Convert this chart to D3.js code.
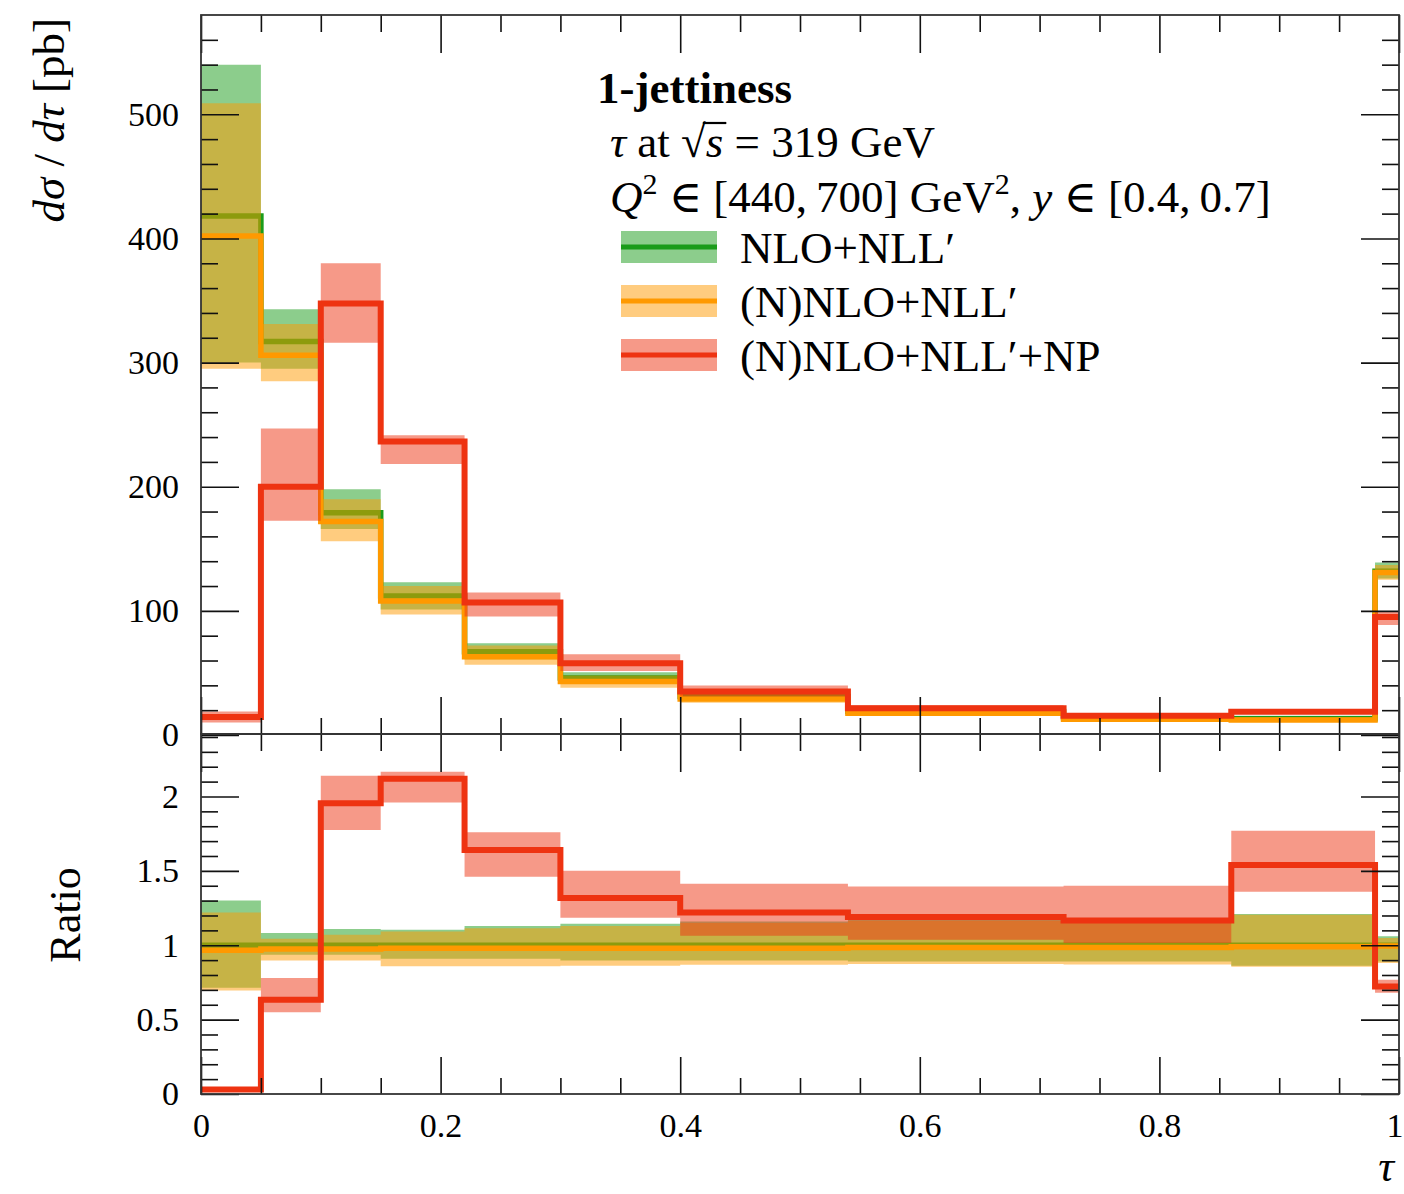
<!DOCTYPE html>
<meta charset="utf-8">
<head>
  <title>1-jettiness</title>
</head>

<style>
body {
  margin: 0;
  background: #fff;
}
text {
  font-family: "Liberation Serif", "DejaVu Serif", serif;
  fill: #000;
}
</style>

<body>
  <svg id="chart" width="1404" height="1194"></svg>

  <script src="https://cdnjs.cloudflare.com/ajax/libs/d3/7.8.5/d3.min.js"></script>

  <script>
// bin edges in tau
var edges = [0, 0.05, 0.1, 0.15, 0.22, 0.3, 0.4, 0.54, 0.72, 0.86, 0.98, 1];

// NLO+NLL'
var nloMid = [418, 317, 179, 112, 67, 46, 31, 19, 14, 13, 132];
var nloLo  = [300, 295, 166, 101, 61, 41, 27.5, 17, 12.5, 11.2, 126];
var nloHi  = [540, 343, 198, 123, 74, 50.5, 35, 21.5, 16, 15.5, 139];
// (N)NLO+NLL'
var nnloMid = [402, 306, 172, 108, 63, 43, 29, 17.5, 12.6, 12, 131];
var nnloLo  = [295, 285, 156, 97, 56.5, 38, 26, 15.6, 11, 10.5, 125];
var nnloHi  = [509, 331, 190, 120, 72, 48, 33, 20.5, 15, 14.5, 137];
// (N)NLO+NLL'+NP
var npMid = [14.5, 200, 347.6, 236.5, 106.7, 57.8, 35, 21.5, 15.6, 18.8, 95];
var npLo  = [10, 172.6, 316, 218.3, 95.4, 51.6, 31, 19.5, 14.3, 17, 88.7];
var npHi  = [19, 247, 380, 241.4, 114.8, 65, 39.8, 24, 17.5, 21, 99.5];

// ratio panel
var nloRatioMid = [1, 1, 1, 1, 1, 1, 1, 1, 1, 1, 1];
var nloRatioLo  = [0.715, 0.936, 0.936, 0.91, 0.91, 0.898, 0.898, 0.89, 0.89, 0.862, 0.89];
var nloRatioHi  = [1.30, 1.082, 1.11, 1.104, 1.13, 1.144, 1.16, 1.17, 1.16, 1.21, 1.06];
var nnloRatioMid = [0.966, 0.975, 0.975, 0.98, 0.98, 0.98, 0.98, 0.985, 0.985, 0.99, 0.995];
var nnloRatioLo  = [0.695, 0.898, 0.898, 0.858, 0.858, 0.862, 0.869, 0.874, 0.87, 0.855, 0.88];
var nnloRatioHi  = [1.22, 1.044, 1.07, 1.093, 1.115, 1.13, 1.15, 1.164, 1.15, 1.205, 1.048];
var npRatioMid = [0.03, 0.634, 1.955, 2.12, 1.64, 1.317, 1.22, 1.19, 1.167, 1.54, 0.723];
var npRatioLo  = [0.02, 0.55, 1.775, 1.96, 1.46, 1.185, 1.064, 1.037, 1.015, 1.36, 0.68];
var npRatioHi  = [0.045, 0.78, 2.14, 2.167, 1.76, 1.50, 1.413, 1.395, 1.40, 1.77, 0.768];

// ticks
var xMajor = [0, 0.2, 0.4, 0.6, 0.8, 1];
var xMinor = [0.05, 0.1, 0.15, 0.25, 0.3, 0.35, 0.45, 0.5, 0.55, 0.65, 0.7, 0.75, 0.85, 0.9, 0.95];
var yMajor = [0, 100, 200, 300, 400, 500];
var yMinor = [20, 40, 60, 80, 120, 140, 160, 180, 220, 240, 260, 280, 320, 340, 360, 380, 420, 440, 460, 480, 520, 540, 560];
var rMajor = [0, 0.5, 1, 1.5, 2];
var rMinor = [0.1, 0.2, 0.3, 0.4, 0.6, 0.7, 0.8, 0.9, 1.1, 1.2, 1.3, 1.4, 1.6, 1.7, 1.8, 1.9, 2.1, 2.2, 2.3, 2.4];
var rLabels = ['0', '0.5', '1', '1.5', '2'];

var series = [
  {name: 'NLO+NLL\u2032', color: '#1a9c1a', mid: nloMid, lo: nloLo, hi: nloHi,
   rMid: nloRatioMid, rLo: nloRatioLo, rHi: nloRatioHi},
  {name: '(N)NLO+NLL\u2032', color: '#ff9900', mid: nnloMid, lo: nnloLo, hi: nnloHi,
   rMid: nnloRatioMid, rLo: nnloRatioLo, rHi: nnloRatioHi},
  {name: '(N)NLO+NLL\u2032+NP', color: '#ee3311', mid: npMid, lo: npLo, hi: npHi,
   rMid: npRatioMid, rLo: npRatioLo, rHi: npRatioHi}
];

var svg = d3.select('#chart');

var left = 201, right = 1399;
var mainTop = 15, mainBottom = 735;
var ratioTop = 734, ratioBottom = 1094;

var x = d3.scaleLinear().domain([0, 1]).range([left, right]);
var y = d3.scaleLinear().domain([0, 580]).range([mainBottom, mainTop]);
var r = d3.scaleLinear().domain([0, 2.42]).range([ratioBottom, ratioTop]);

function stepPoints(vals) {
  return edges.map(function(e, i) { return [e, vals[Math.min(i, vals.length - 1)]]; });
}
function bandPoints(lo, hi) {
  return edges.map(function(e, i) {
    var k = Math.min(i, lo.length - 1);
    return [e, lo[k], hi[k]];
  });
}

function drawPanel(g, ys, key) {
  var area = d3.area()
    .x(function(d) { return x(d[0]); })
    .y0(function(d) { return ys(d[1]); })
    .y1(function(d) { return ys(d[2]); })
    .curve(d3.curveStepAfter);
  var line = d3.line()
    .x(function(d) { return x(d[0]); })
    .y(function(d) { return ys(d[1]); })
    .curve(d3.curveStepAfter);

  series.forEach(function(s) {
    var mid = key ? s.rMid : s.mid;
    var lo = key ? s.rLo : s.lo;
    var hi = key ? s.rHi : s.hi;
    g.append('path')
      .attr('d', area(bandPoints(lo, hi)))
      .attr('fill', s.color)
      .attr('fill-opacity', 0.5);
    g.append('path')
      .attr('d', line(stepPoints(mid)))
      .attr('fill', 'none')
      .attr('stroke', s.color)
      .attr('stroke-width', s.color == '#ee3311' ? 6 : 5.5);
  });
}

drawPanel(svg.append('g'), y, false);
drawPanel(svg.append('g'), r, true);

// Axes with inward ticks
function styleAxis(g) {
  g.select('.domain').remove();
  g.selectAll('.tick line').attr('stroke', '#111').attr('stroke-width', 1.6);
  g.selectAll('.tick text').style('font-size', '34px').style('font-family', '"Liberation Serif", serif');
}

var axes = svg.append('g');

// main panel
axes.append('g').attr('transform', 'translate(' + left + ',0)')
  .call(d3.axisLeft(y).tickValues(yMajor).tickSize(-38).tickPadding(22).tickFormat(d3.format('d')))
  .call(styleAxis);
axes.append('g').attr('transform', 'translate(' + left + ',0)')
  .call(d3.axisLeft(y).tickValues(yMinor).tickSize(-17).tickFormat(''))
  .call(styleAxis);
axes.append('g').attr('transform', 'translate(' + right + ',0)')
  .call(d3.axisRight(y).tickValues(yMajor).tickSize(-38).tickFormat(''))
  .call(styleAxis);
axes.append('g').attr('transform', 'translate(' + right + ',0)')
  .call(d3.axisRight(y).tickValues(yMinor).tickSize(-17).tickFormat(''))
  .call(styleAxis);
axes.append('g').attr('transform', 'translate(0,' + mainTop + ')')
  .call(d3.axisTop(x).tickValues(xMajor).tickSize(-38).tickFormat(''))
  .call(styleAxis);
axes.append('g').attr('transform', 'translate(0,' + mainTop + ')')
  .call(d3.axisTop(x).tickValues(xMinor).tickSize(-17).tickFormat(''))
  .call(styleAxis);
axes.append('g').attr('transform', 'translate(0,' + ratioTop + ')')
  .call(d3.axisBottom(x).tickValues(xMajor).tickSize(-37).tickFormat(''))
  .call(styleAxis);
axes.append('g').attr('transform', 'translate(0,' + ratioTop + ')')
  .call(d3.axisBottom(x).tickValues(xMinor).tickSize(-16).tickFormat(''))
  .call(styleAxis);

// ratio panel
axes.append('g').attr('transform', 'translate(' + left + ',0)')
  .call(d3.axisLeft(r).tickValues(rMajor).tickSize(-38).tickPadding(22)
    .tickFormat(function(d, i) { return rLabels[i]; }))
  .call(styleAxis);
axes.append('g').attr('transform', 'translate(' + left + ',0)')
  .call(d3.axisLeft(r).tickValues(rMinor).tickSize(-17).tickFormat(''))
  .call(styleAxis);
axes.append('g').attr('transform', 'translate(' + right + ',0)')
  .call(d3.axisRight(r).tickValues(rMajor).tickSize(-38).tickFormat(''))
  .call(styleAxis);
axes.append('g').attr('transform', 'translate(' + right + ',0)')
  .call(d3.axisRight(r).tickValues(rMinor).tickSize(-17).tickFormat(''))
  .call(styleAxis);
axes.append('g').attr('transform', 'translate(0,' + ratioTop + ')')
  .call(d3.axisTop(x).tickValues(xMajor).tickSize(-38).tickFormat(''))
  .call(styleAxis);
axes.append('g').attr('transform', 'translate(0,' + ratioTop + ')')
  .call(d3.axisTop(x).tickValues(xMinor).tickSize(-17).tickFormat(''))
  .call(styleAxis);
var xAxisG = axes.append('g').attr('transform', 'translate(0,' + ratioBottom + ')')
  .call(d3.axisBottom(x).tickValues(xMajor).tickSize(-37).tickPadding(19)
    .tickFormat(function(d) { return d3.format('~g')(d); }))
  .call(styleAxis);
// keep the last label inside the picture
xAxisG.selectAll('.tick text').filter(function(d) { return d === 1; })
  .attr('text-anchor', 'end').attr('dx', 4);
axes.append('g').attr('transform', 'translate(0,' + ratioBottom + ')')
  .call(d3.axisBottom(x).tickValues(xMinor).tickSize(-16).tickFormat(''))
  .call(styleAxis);

// frames
axes.append('rect')
  .attr('x', left).attr('y', mainTop)
  .attr('width', right - left).attr('height', ratioTop - mainTop)
  .attr('fill', 'none').attr('stroke', '#333').attr('stroke-width', 1.8);
axes.append('rect')
  .attr('x', left).attr('y', ratioTop)
  .attr('width', right - left).attr('height', ratioBottom - ratioTop)
  .attr('fill', 'none').attr('stroke', '#333').attr('stroke-width', 1.8);

// axis titles
var yTitle = svg.append('text')
  .attr('transform', 'translate(64,18) rotate(-90)')
  .attr('text-anchor', 'end')
  .style('font-size', '45px');
yTitle.append('tspan').style('font-style', 'italic').text('d\u03c3');
yTitle.append('tspan').text(' / ');
yTitle.append('tspan').style('font-style', 'italic').text('d\u03c4');
yTitle.append('tspan').text(' [pb]');

svg.append('text')
  .attr('transform', 'translate(80,915) rotate(-90)')
  .attr('text-anchor', 'middle')
  .style('font-size', '44px')
  .text('Ratio');

svg.append('text')
  .attr('x', 1386).attr('y', 1181)
  .attr('text-anchor', 'middle')
  .style('font-size', '44px')
  .style('font-style', 'italic')
  .text('\u03c4');

// legend / header
var legend = svg.append('g');
legend.append('text')
  .attr('x', 597).attr('y', 103)
  .style('font-size', '45px')
  .style('font-weight', 'bold')
  .text('1-jettiness');

var l2 = legend.append('text').attr('x', 610).attr('y', 157).style('font-size', '45px');
l2.append('tspan').style('font-style', 'italic').text('\u03c4');
l2.append('tspan').text(' at \u221a');
var sSpan = l2.append('tspan').style('font-style', 'italic').text('s');
l2.append('tspan').text(' = 319 GeV');
// bar of the square root over s
var sBox = sSpan.node().getBBox();
legend.append('line')
  .attr('x1', sBox.x - 3).attr('x2', sBox.x + sBox.width + 3)
  .attr('y1', 157 - 34).attr('y2', 157 - 34)
  .attr('stroke', '#000').attr('stroke-width', 2.2);

var l3 = legend.append('text').attr('x', 610).attr('y', 212).style('font-size', '45px');
l3.append('tspan').style('font-style', 'italic').text('Q');
l3.append('tspan').attr('dy', -18).style('font-size', '30px').text('2');
l3.append('tspan').attr('dy', 18).text(' \u2208 [440,\u2009700] GeV');
l3.append('tspan').attr('dy', -18).style('font-size', '30px').text('2');
l3.append('tspan').attr('dy', 18).text(', ');
l3.append('tspan').style('font-style', 'italic').text('y');
l3.append('tspan').text(' \u2208 [0.4,\u20090.7]');

series.forEach(function(s, i) {
  var cy = 247 + i * 54;
  legend.append('rect')
    .attr('x', 621).attr('y', cy - 16)
    .attr('width', 96).attr('height', 32)
    .attr('fill', s.color).attr('fill-opacity', 0.5);
  legend.append('line')
    .attr('x1', 621).attr('x2', 717)
    .attr('y1', cy).attr('y2', cy)
    .attr('stroke', s.color).attr('stroke-width', 5);
  legend.append('text')
    .attr('x', 740).attr('y', cy + 16)
    .style('font-size', '45px')
    .text(s.name);
});
  </script>
</body>
</html>
